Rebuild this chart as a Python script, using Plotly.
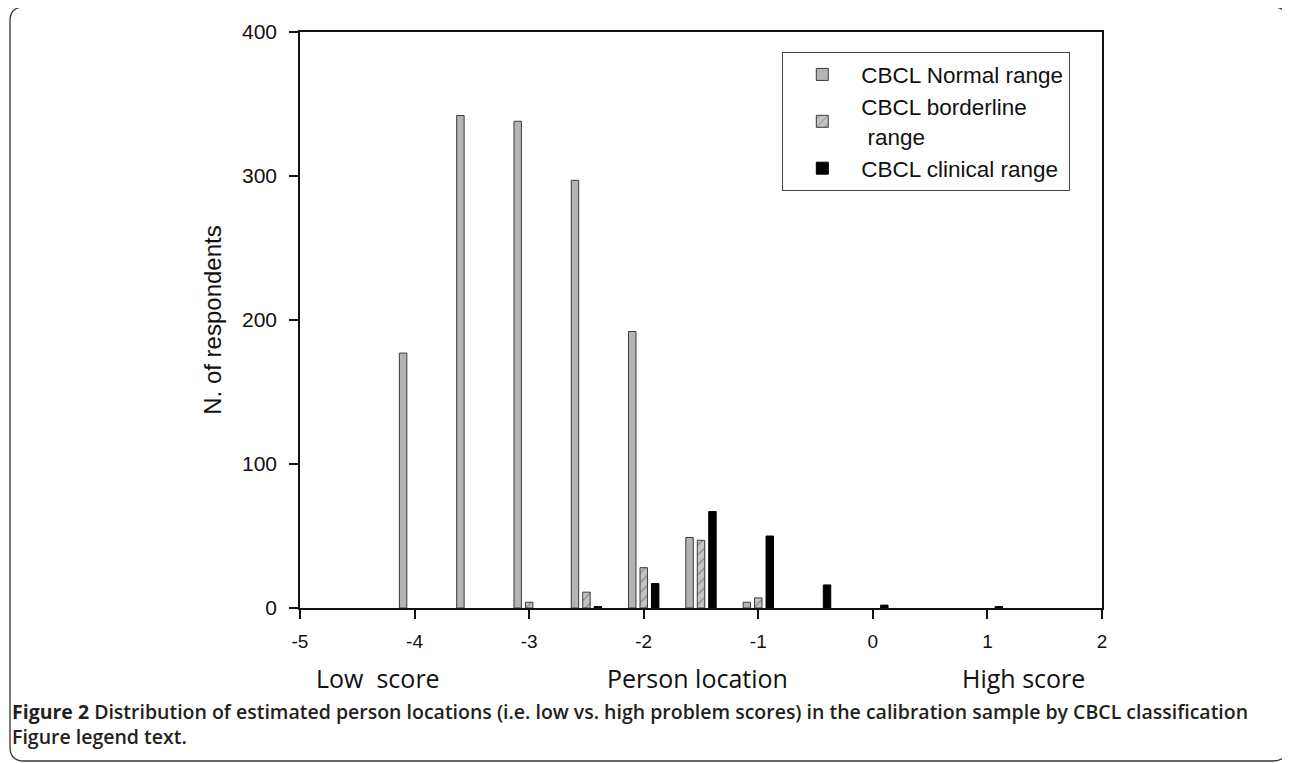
import plotly.graph_objects as go

# ---- data ----
normal_x = [-4.1, -3.6, -3.1, -2.6, -2.1, -1.6, -1.1]
normal_n = [177, 342, 338, 297, 192, 49, 4]

border_x = [-3.0, -2.5, -2.0, -1.5, -1.0]
border_n = [4, 11, 28, 47, 7]

clin_x = [-2.4, -1.9, -1.4, -0.9, -0.4, 0.1, 1.1]
clin_n = [1, 17, 67, 50, 16, 2, 1]

x_ticks = [-5, -4, -3, -2, -1, 0, 1, 2]
y_ticks = [0, 100, 200, 300, 400]

series_names = ["CBCL Normal range", "CBCL borderline<br> range", "CBCL clinical range"]
caption_bold = "Figure 2"
caption_rest = " Distribution of estimated person locations (i.e. low vs. high problem scores) in the calibration sample by CBCL classification"
caption_line2 = "Figure legend text."

PAGE_W, PAGE_H = 1290, 763
OFF = 8  # page body margin
L, R, T, B = 300, 1102, 32, 608  # plot area in page pixels


def px(xp):
    return (xp - L) / (R - L)


def py(yp):
    return (B - yp) / (B - T)


BAR_W = 0.065
fig = go.Figure()
fig.add_trace(go.Bar(
    x=normal_x, y=normal_n, width=BAR_W, name=series_names[0],
    marker=dict(color="#b4b4b4", line=dict(color="#3a3a3a", width=1)),
))
fig.add_trace(go.Bar(
    x=border_x, y=border_n, width=BAR_W, name=series_names[1],
    marker=dict(color="#c4c4c4", line=dict(color="#3a3a3a", width=1),
                pattern=dict(shape="/", fgcolor="#333333", bgcolor="#c4c4c4",
                             size=7, solidity=0.15)),
))
fig.add_trace(go.Bar(
    x=clin_x, y=clin_n, width=BAR_W, name=series_names[2],
    marker=dict(color="#000000", line=dict(color="#000000", width=1)),
))

axis_font = dict(family="Liberation Sans, Arial, sans-serif", color="#111111")

fig.update_layout(
    width=PAGE_W - OFF, height=PAGE_H - OFF,
    margin=dict(l=L - OFF, r=PAGE_W - R, t=T - OFF, b=PAGE_H - B, autoexpand=False),
    paper_bgcolor="white", plot_bgcolor="white",
    font=dict(family="Liberation Sans, Arial, sans-serif"),
    barmode="overlay",
    showlegend=True,
    legend=dict(
        x=px(782), y=py(52), xanchor="left", yanchor="top",
        bordercolor="#444444", borderwidth=1.3, bgcolor="white",
        font=dict(size=22.5, **axis_font),
        itemwidth=68, tracegroupgap=0,
    ),
    xaxis=dict(
        range=[-5, 2], tickvals=x_ticks, ticktext=[str(v) for v in x_ticks],
        showline=True, linecolor="#111111", linewidth=1.5, mirror=True,
        ticks="outside", ticklen=9, tickwidth=1.5, tickcolor="#111111",
        showgrid=False, zeroline=False,
        tickfont=dict(size=19, **axis_font), ticklabelstandoff=6,
    ),
    yaxis=dict(
        range=[0, 400], tickvals=y_ticks,
        showline=True, linecolor="#111111", linewidth=1.5, mirror=True,
        ticks="outside", ticklen=9, tickwidth=1.5, tickcolor="#111111",
        showgrid=False, zeroline=False,
        tickfont=dict(size=21, **axis_font), ticklabelstandoff=8,
        title=dict(text="N. of respondents", font=dict(size=24, **axis_font), standoff=14),
    ),
)

sub_font = dict(family="Open Sans, sans-serif", size=25, color="#111111")
for txt, cx in [("Low\u00a0\u00a0score", 378), ("Person location", 697), ("High score", 1023)]:
    fig.add_annotation(text=txt, x=px(cx), y=py(678), xref="paper", yref="paper",
                       xanchor="center", yanchor="middle", showarrow=False, font=sub_font)

cap_font = dict(family="Open Sans, sans-serif", size=19.5, color="#231f20", weight=600)
fig.add_annotation(text="<b>" + caption_bold + "</b>" + caption_rest + "<br>" + caption_line2,
                   x=px(10), y=py(696), xref="paper", yref="paper", align="left",
                   xanchor="left", yanchor="top", showarrow=False, font=cap_font)

# rounded outer frame
x0, y0, x1, y1, r = 10, 7, 1287, 761, 14
path = (f"M {px(x0)},{py(y0 + r)} L {px(x0)},{py(y1 - r)} "
        f"Q {px(x0)},{py(y1)} {px(x0 + r)},{py(y1)} "
        f"L {px(x1 - r)},{py(y1)} Q {px(x1)},{py(y1)} {px(x1)},{py(y1 - r)} "
        f"L {px(x1)},{py(y0 + r)} Q {px(x1)},{py(y0)} {px(x1 - r)},{py(y0)} "
        f"L {px(x0 + r)},{py(y0)} Q {px(x0)},{py(y0)} {px(x0)},{py(y0 + r)} Z")
fig.add_shape(type="path", path=path, xref="paper", yref="paper",
              line=dict(color="#333333", width=1.3), layer="below")

fig.write_html("out.html")
